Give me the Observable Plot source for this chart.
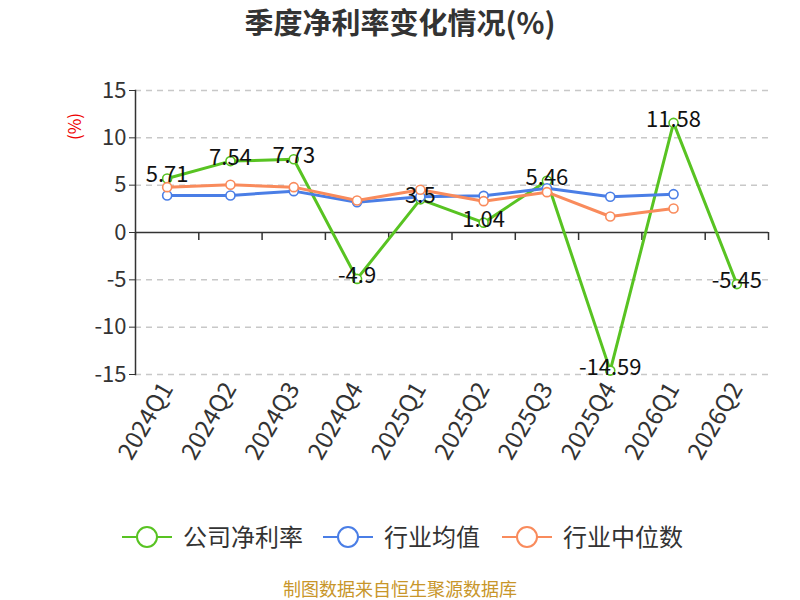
<!DOCTYPE html>
<html><head><meta charset="utf-8">
<script src="https://cdn.jsdelivr.net/npm/d3@7"></script>
<script src="https://cdn.jsdelivr.net/npm/@observablehq/plot@0.6"></script>
<style>
body{margin:0;background:#fff;font-family:"Noto Sans CJK SC","Noto Sans",sans-serif;}
#wrap{position:relative;width:800px;height:600px;overflow:hidden;}
#title{height:45px;line-height:42px;text-align:center;font-size:29px;font-weight:bold;color:#333;}
#ylab{position:absolute;left:55px;top:114px;transform:rotate(-90deg);transform-origin:center;color:#e00;font-size:17px;width:36px;text-align:center;}
#legend{position:absolute;left:0;top:510px;width:800px;height:54px;overflow:visible;}
#footer{position:absolute;left:0;top:577px;width:800px;height:22px;line-height:22px;text-align:center;font-size:18px;color:#c8962a;}
</style></head>
<body><div id="wrap"><div id="title">季度净利率变化情况(%)</div><div id="chart"></div><div id="ylab">(%)</div><svg id="legend" width="800" height="54"></svg><div id="footer">制图数据来自恒生聚源数据库</div></div>
<script>
const quarters = ["2024Q1","2024Q2","2024Q3","2024Q4","2025Q1","2025Q2","2025Q3","2025Q4","2026Q1","2026Q2"];
const company = [5.71, 7.54, 7.73, -4.9, 3.5, 1.04, 5.46, -14.59, 11.58, -5.45];
const industryMean = [3.91, 3.91, 4.37, 3.2, 3.77, 3.87, 4.68, 3.77, 4.05];
const industryMedian = [4.79, 5.04, 4.79, 3.38, 4.51, 3.31, 4.26, 1.69, 2.54];
const yTicks = [-15, -10, -5, 0, 5, 10, 15];
const seriesNames = ["公司净利率", "行业均值", "行业中位数"];
const colors = ["#58c322", "#4a7ee6", "#f98b5c"];

const toRows = vals => vals.map((v, i) => ({i, q: quarters[i], v}));
const rowsC = toRows(company), rowsM = toRows(industryMean), rowsD = toRows(industryMedian);
const bounds = d3.range(quarters.length + 1).map(i => i - 0.5);

function series(rows, c) {
  return [
    Plot.line(rows, {x: "i", y: "v", stroke: c, strokeWidth: 3}),
    Plot.dot(rows, {x: "i", y: "v", r: 4.5, fill: "#fff", stroke: c, strokeWidth: 1.6})
  ];
}

const chart = Plot.plot({
  width: 800, height: 460,
  marginTop: 45, marginBottom: 131, marginLeft: 135, marginRight: 32,
  x: {type: "linear", domain: [-0.5, quarters.length - 0.5]},
  y: {domain: [-15, 15]},
  style: {fontFamily: '"Noto Sans CJK SC","Noto Sans",sans-serif', fontSize: "18px", color: "#333", background: "transparent", overflow: "visible"},
  marks: [
    Plot.ruleY(yTicks.filter(d => d !== 0), {stroke: "#c8c8c8", strokeDasharray: "6,5", strokeWidth: 1.5}),
    Plot.axisY({ticks: yTicks, tickFormat: d => String(d), tickSize: 6, tickPadding: 3, fontSize: 22, label: null, stroke: "#333"}),
    Plot.frame({anchor: "left", stroke: "#333", strokeWidth: 1.5}),
    Plot.ruleY([0], {stroke: "#333", strokeWidth: 1.5}),
    Plot.ruleX(bounds, {x: d => d, y1: 0, y2: 0, insetBottom: -8, stroke: "#333", strokeWidth: 1.5}),
    Plot.axisX({ticks: d3.range(quarters.length), tickFormat: i => quarters[i], tickSize: 0, tickPadding: 10, tickRotate: -60, fontSize: 24, label: null}),
    ...series(rowsC, colors[0]),
    ...series(rowsM, colors[1]),
    ...series(rowsD, colors[2]),
    Plot.text(rowsC, {x: "i", y: "v", text: d => String(d.v), fill: "#111", fontSize: 22, dy: -3})
  ]
});
document.getElementById("chart").appendChild(chart);

const lg = d3.select("#legend");
const xs = [122, 323, 502];
seriesNames.forEach((n, k) => {
  const g = lg.append("g").attr("transform", `translate(${xs[k]},27)`);
  g.append("line").attr("x1", 0).attr("x2", 50).attr("y1", 0).attr("y2", 0).attr("stroke", colors[k]).attr("stroke-width", 2);
  g.append("circle").attr("cx", 25).attr("cy", 0).attr("r", 10).attr("fill", "#fff").attr("stroke", colors[k]).attr("stroke-width", 2);
  g.append("text").attr("x", 61).attr("y", 0).attr("dy", "0.36em").attr("font-size", 24).attr("fill", "#333").text(n);
});
</script></body></html>
